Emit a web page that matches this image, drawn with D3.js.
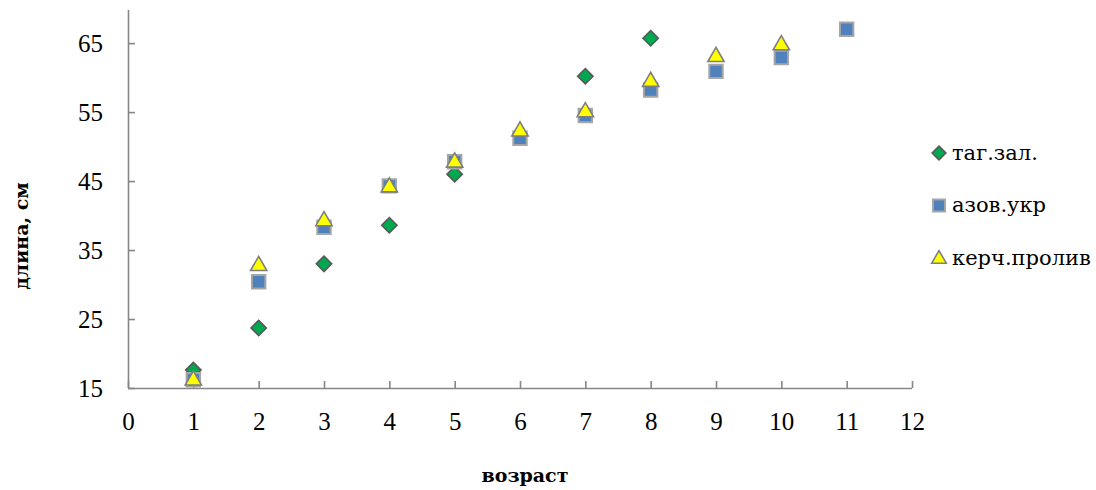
<!DOCTYPE html>
<html>
<head>
<meta charset="utf-8">
<script src="https://cdn.jsdelivr.net/npm/d3@7"></script>
<style>
body { margin: 0; background: #fff; }
text { font-family: "DejaVu Serif", "Liberation Serif", serif; fill: #000; }
.tick text { font-family: "Liberation Serif", serif; font-size: 25px; }
.title { font-size: 19px; font-weight: bold; }
.legend text { font-size: 21px; }
</style>
</head>
<body>
<script>
// Data
const ages = [1, 2, 3, 4, 5, 6, 7, 8, 9, 10, 11];
const seriesNames = ["таг.зал.", "азов.укр", "керч.пролив"];
const tagZal = [17.6, 23.7, 33.0, 38.6, 46.0, null, 60.2, 65.7, null, null, null];
const azovUkr = [16.2, 30.4, 38.3, 44.3, 47.8, 51.2, 54.5, 58.2, 60.9, 62.9, 67.0];
const kerch = [16.4, 33.0, 39.5, 44.4, 48.0, 52.5, 55.3, 59.7, 63.3, 65.0, null];
const xTicks = d3.range(0, 13);
const yTicks = [15, 25, 35, 45, 55, 65];

const width = 1096, height = 490;
const mLeft = 128, mRight = 912, mTop = 10, mBottom = 388;

const svg = d3.select("body").append("svg")
    .attr("width", width)
    .attr("height", height);

const x = d3.scaleLinear().domain([0, 12]).range([mLeft, mRight]);
const y = d3.scaleLinear().domain([15, 69.8]).range([mBottom, mTop]);

//Axes
const xAxis = svg.append("g")
    .attr("transform", `translate(0,${mBottom})`)
    .call(d3.axisTop(x).tickValues(xTicks).tickSize(7).tickFormat(d3.format("d")));
xAxis.selectAll(".tick text").attr("y", 41.5).attr("dy", "0");

const yAxis = svg.append("g")
    .attr("transform", `translate(${mLeft},0)`)
    .call(d3.axisRight(y).tickValues(yTicks).tickSize(7));
yAxis.selectAll(".tick text").attr("x", -25).attr("dy", "0.34em").attr("text-anchor", "end");

svg.selectAll(".domain, .tick line")
    .attr("stroke", "#868686")
    .attr("stroke-width", 1.6);
yAxis.select(".domain").attr("d", `M0.5,${mTop}V${mBottom}`);
xAxis.select(".domain").attr("d", `M${mLeft},0.5H${mRight}`);

//Markers
const styles = [
    { sym: d3.symbolDiamond2, size: 150, fill: "#00a84f", stroke: "#595959", sw: 1.6 },
    { sym: d3.symbolSquare2, size: 230, fill: "#4f81bd", stroke: "#a6a6a6", sw: 2 },
    { sym: d3.symbolTriangle2, size: 190, fill: "#ffff00", stroke: "#7f7f7f", sw: 1.6 }
];
const allSeries = [tagZal, azovUkr, kerch];

allSeries.forEach((vals, i) => {
    const st = styles[i];
    const pts = ages.map((a, j) => ({ a: a, v: vals[j] })).filter(d => d.v != null);
    svg.append("g")
        .selectAll("path")
        .data(pts)
        .enter()
        .append("path")
        .attr("transform", d => {
            const dy = i === 2 ? 2 : 0;
            return `translate(${x(d.a)},${y(d.v) + dy})`;
        })
        .attr("d", d3.symbol(st.sym, st.size))
        .attr("fill", st.fill)
        .attr("stroke", st.stroke)
        .attr("stroke-width", st.sw);
});

//Legend
const legend = svg.append("g").attr("class", "legend");
seriesNames.forEach((name, i) => {
    const st = styles[i];
    const ly = 153 + i * 52.5;
    legend.append("path")
        .attr("transform", `translate(939,${ly + (i === 2 ? 1 : 0)})`)
        .attr("d", d3.symbol(st.sym, st.size * 0.8))
        .attr("fill", st.fill)
        .attr("stroke", st.stroke)
        .attr("stroke-width", st.sw);
    legend.append("text")
        .attr("x", 952)
        .attr("y", ly)
        .attr("dy", "0.33em")
        .text(name);
});

//Titles
svg.append("text")
    .attr("class", "title")
    .attr("transform", "translate(28,236) rotate(-90)")
    .attr("text-anchor", "middle")
    .text("длина, см");

svg.append("text")
    .attr("class", "title")
    .attr("x", 525)
    .attr("y", 482)
    .attr("text-anchor", "middle")
    .text("возраст");
</script>
</body>
</html>
